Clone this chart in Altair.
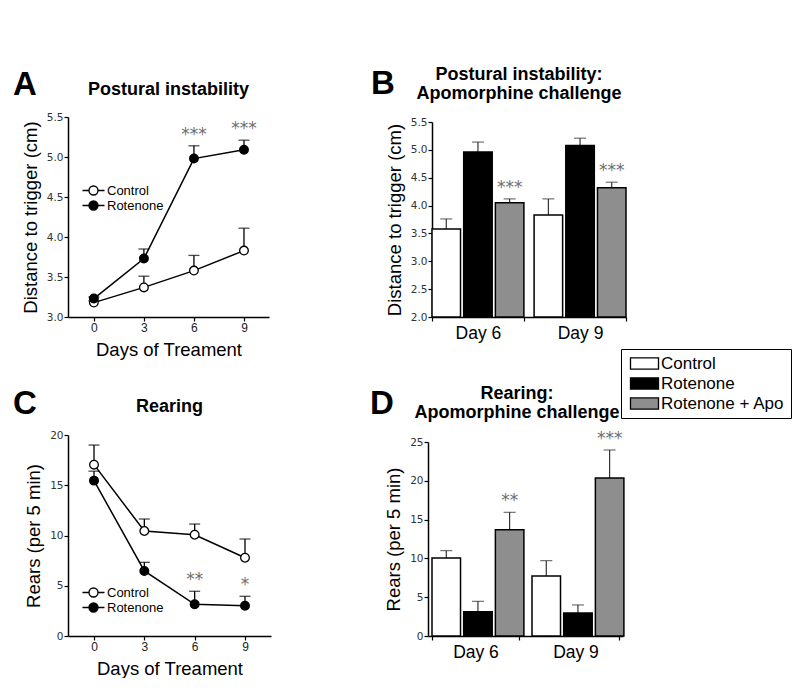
import altair as alt
import pandas as pd

FONT = "Liberation Sans"
TFONT = "DejaVu Sans"

# ---------------- data ----------------
days = [0, 3, 6, 9]
series = ["Control", "Rotenone"]

a_ctrl = [3.18, 3.37, 3.58, 3.83]
a_ctrl_up = [3.20, 3.51, 3.77, 4.11]
a_rot = [3.23, 3.73, 4.98, 5.09]
a_rot_up = [3.25, 3.85, 5.14, 5.21]
a_rot_sig = ["", "", "***", "***"]

c_ctrl = [17.05, 10.45, 10.08, 7.79]
c_ctrl_up = [19.0, 11.64, 11.14, 9.65]
c_rot = [15.46, 6.47, 3.15, 3.02]
c_rot_up = [16.4, 7.33, 4.45, 3.95]
c_rot_sig = ["", "", "**", "*"]

bar_days = ["Day 6", "Day 9"]
groups = ["Control", "Rotenone", "Rotenone + Apo"]

b_ctrl = [3.58, 3.83]
b_ctrl_up = [3.76, 4.12]
b_rot = [4.96, 5.08]
b_rot_up = [5.14, 5.21]
b_apo = [4.05, 4.32]
b_apo_up = [4.12, 4.42]
b_apo_sig = ["***", "***"]

d_ctrl = [10.05, 7.73]
d_ctrl_up = [11.0, 9.71]
d_rot = [3.13, 2.96]
d_rot_up = [4.47, 4.0]
d_apo = [13.7, 20.36]
d_apo_up = [15.94, 23.97]
d_apo_sig = ["**", "***"]

a_yticks = [3.0, 3.5, 4.0, 4.5, 5.0, 5.5]
b_yticks = [2.0, 2.5, 3.0, 3.5, 4.0, 4.5, 5.0, 5.5]
c_yticks = [0, 5, 10, 15, 20]
d_yticks = [0, 5, 10, 15, 20, 25]

# legend symbols (wider than their nominal square so rows stay compact)
LINE_SYMBOL = ("M-2.2,0H-0.9M0.9,0H2.2M0.9,0A0.9,0.9 0 1,1 -0.9,0"
               "A0.9,0.9 0 1,1 0.9,0Z")
RECT_SYMBOL = "M-2,-0.8H2V0.8H-2Z"
STAR_COLOR = "#6e6e6e"


def yaxis(vals, fmt, title):
    return alt.Axis(values=vals, format=fmt, title=title, titleFont=FONT,
                    titleFontSize=18.5, titleFontWeight="normal", titleColor="black",
                    titlePadding=6, labelFont=TFONT, labelFontSize=10.5,
                    labelColor="#333333", labelPadding=1, tickSize=4, grid=False)


def text_layer(txt, x, y, size, weight="bold", align="left", baseline="alphabetic"):
    return alt.Chart(pd.DataFrame({"t": [txt]})).mark_text(
        font=FONT, fontSize=size, fontWeight=weight, align=align, baseline=baseline,
        color="black", lineBreak="\n", lineHeight=19
    ).encode(x=alt.value(x), y=alt.value(y), text="t:N")


def line_panel(ctrl, ctrl_up, rot, rot_up, sig, ydom, yvals, yfmt, ytitle,
               xdom, width, height, leg_y, title, title_y, letter, letter_y):
    rows = []
    for d, m, u in zip(days, ctrl, ctrl_up):
        rows.append(dict(day=d, series="Control", mean=m, upper=u, sig=""))
    for d, m, u, s in zip(days, rot, rot_up, sig):
        rows.append(dict(day=d, series="Rotenone", mean=m, upper=u, sig=s))
    df = pd.DataFrame(rows)
    base = alt.Chart(df)
    x = alt.X("day:Q", scale=alt.Scale(domain=xdom, nice=False, zero=False),
              axis=alt.Axis(values=days, format="d", title="Days of Treament",
                            titleFont=FONT, titleFontSize=18.5, titleFontWeight="normal",
                            titleColor="black", titlePadding=7, labelFont=FONT,
                            labelFontSize=12, labelColor="#222222", labelPadding=1,
                            tickSize=4, grid=False))
    ysc = alt.Scale(domain=ydom, nice=False, zero=False)
    ax = yaxis(yvals, yfmt, ytitle)
    y = alt.Y("mean:Q", scale=ysc, axis=ax)
    yu = alt.Y("upper:Q", scale=ysc, axis=ax)
    err = base.mark_rule(color="black", strokeWidth=1.3).encode(x=x, y=y, y2="upper:Q")
    cap = base.mark_tick(color="black", orient="horizontal", size=11, thickness=1.3).encode(x=x, y=yu)
    line = base.mark_line(color="black", strokeWidth=1.5).encode(x=x, y=y, detail="series:N")
    pts = base.mark_point(filled=True, size=75, stroke="black", strokeWidth=1.3, opacity=1).encode(
        x=x, y=y,
        fill=alt.Fill("series:N", sort=series,
                      scale=alt.Scale(domain=series, range=["white", "black"]),
                      legend=alt.Legend(orient="none", legendX=13, legendY=leg_y, title=None,
                                        symbolType=LINE_SYMBOL, symbolSize=100,
                                        symbolStrokeColor="black", symbolStrokeWidth=1.4,
                                        symbolOffset=6,
                                        labelFont=FONT, labelFontSize=13, labelColor="black",
                                        labelOffset=7, rowPadding=0, padding=0)))
    stars = base.transform_filter("datum.sig != ''").mark_text(
        font=TFONT, fontSize=17, color=STAR_COLOR, baseline="bottom", dy=-2
    ).encode(x=x, y=yu, text="sig:N")
    ttl = text_layer(title, width / 2, title_y, 18, align="center")
    let = text_layer(letter, -55, letter_y, 33)
    return alt.layer(err, cap, line, pts, stars, ttl, let).properties(width=width, height=height)


def bar_panel(ctrl, ctrl_up, rot, rot_up, apo, apo_up, sig, ydom, yvals, yfmt, ytitle,
              width, height, xrange, yrange, pad_inner, pad_outer, y_off, legend, title, title_x,
              title_y, letter_x, letter_y):
    rows = []
    for g, m_list, u_list in [("Control", ctrl, ctrl_up), ("Rotenone", rot, rot_up),
                              ("Rotenone + Apo", apo, apo_up)]:
        for i, d in enumerate(bar_days):
            rows.append(dict(day=d, group=g, mean=m_list[i], upper=u_list[i],
                             sig=sig[i] if g == "Rotenone + Apo" else ""))
    df = pd.DataFrame(rows)
    base = alt.Chart(df)
    x = alt.X("day:N", sort=bar_days,
              scale=alt.Scale(range=xrange, paddingInner=pad_inner, paddingOuter=pad_outer),
              axis=alt.Axis(title=None, labelFont=FONT, labelFontSize=17.5, labelColor="black",
                            labelAngle=0, tickBand="extent", tickSize=4, labelPadding=3))
    xo = alt.XOffset("group:N", sort=groups, scale=alt.Scale(paddingInner=0.1, paddingOuter=0))
    ysc = alt.Scale(domain=ydom, nice=False, zero=False, range=yrange)
    ax = yaxis(yvals, yfmt, ytitle)
    ax.offset = y_off
    y = alt.Y("mean:Q", scale=ysc, axis=ax)
    yu = alt.Y("upper:Q", scale=ysc, axis=ax)
    bars = base.mark_bar(stroke="black", strokeWidth=1.5).encode(
        x=x, xOffset=xo, y=y, y2=alt.datum(ydom[0]),
        fill=alt.Fill("group:N", sort=groups,
                      scale=alt.Scale(domain=groups, range=["white", "black", "#8e8e8e"]),
                      legend=legend))
    err = base.mark_rule(color="#222222", strokeWidth=1.1).encode(x=x, xOffset=xo, y=y, y2="upper:Q")
    cap = base.mark_tick(color="#222222", orient="horizontal", size=12, thickness=1.1).encode(
        x=x, xOffset=xo, y=yu)
    stars = base.transform_filter("datum.sig != ''").mark_text(
        font=TFONT, fontSize=17, color=STAR_COLOR, baseline="bottom", dy=-2
    ).encode(x=x, xOffset=xo, y=yu, text="sig:N")
    ttl = text_layer(title, title_x, title_y, 18, align="center")
    let = text_layer(letter_x[0], letter_x[1], letter_y, 33)
    return alt.layer(err, cap, bars, stars, ttl, let).properties(width=width, height=height)


panel_a = line_panel(a_ctrl, a_ctrl_up, a_rot, a_rot_up, a_rot_sig, [3.0, 5.5], a_yticks, ".1f",
                     "Distance to trigger (cm)", [-1.55, 10.5], 201, 200, 67,
                     "Postural instability", -22, "A", -22)

panel_b = bar_panel(b_ctrl, b_ctrl_up, b_rot, b_rot_up, b_apo, b_apo_up, b_apo_sig,
                    [2.0, 5.5], b_yticks, ".1f", "Distance to trigger (cm)",
                    198, 200, [4, 198], [200, 5], 0.1, 0.0, -4, None,
                    "Postural instability:\nApomorphine challenge", 91, -37, ("B", -57), -23)

panel_c = line_panel(c_ctrl, c_ctrl_up, c_rot, c_rot_up, c_rot_sig, [0, 20], c_yticks, "d",
                     "Rears (per 5 min)", [-1.55, 10.55], 203, 201, 151,
                     "Rearing", -23, "C", -21)

legend_d = alt.Legend(orient="none", legendX=193, legendY=-86, title=None,
                      symbolType=RECT_SYMBOL, symbolSize=196, symbolStrokeColor="black",
                      symbolStrokeWidth=1.3, symbolOffset=9, labelFont=FONT, labelFontSize=17,
                      labelColor="black", labelOffset=8, rowPadding=2, padding=6,
                      strokeColor="black", fillColor="white")

panel_d = bar_panel(d_ctrl, d_ctrl_up, d_rot, d_rot_up, d_apo, d_apo_up, d_apo_sig,
                    [0, 25], d_yticks, "d", "Rears (per 5 min)",
                    195, 201, [0, 195], [201, 7], 0.13, 0.04, 0, legend_d,
                    "Rearing:\nApomorphine challenge", 89, -36, ("D", -58), -21)

chart = alt.concat(
    panel_a, panel_b, panel_c, panel_d, columns=2,
    spacing=alt.RowColnumber(row=118, column=157), bounds="flush"
).resolve_scale(
    x="independent", y="independent", fill="independent"
).resolve_legend(fill="independent").properties(
    padding={"left": 5, "top": 58, "right": 0, "bottom": 0}
).configure_view(stroke=None).configure_axis(
    domainColor="black", domainWidth=1.5, tickColor="black", tickWidth=1.2
)

chart.save("out.html", embed_options={"renderer": "svg", "actions": False})
